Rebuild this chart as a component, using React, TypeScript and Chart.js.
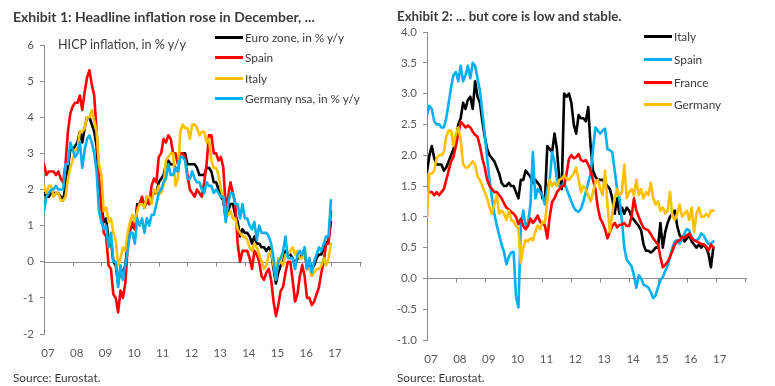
import React, { useEffect, useRef } from "react";
import { Chart, registerables } from "chart.js";

Chart.register(...registerables);

// x index 0 = Dec 2006, one step per month
const yearLabels = ["07", "08", "09", "10", "11", "12", "13", "14", "15", "16", "17"];

// Exhibit 1: headline HICP, % y/y (Dec 2006 .. Dec 2016)
const euroZone = [1.9,
  1.8, 1.8, 1.9, 1.9, 1.9, 1.9, 1.8, 1.7, 2.1, 2.6, 3.1, 3.1,
  3.2, 3.3, 3.6, 3.3, 3.7, 4.0, 4.0, 3.8, 3.6, 3.2, 2.1, 1.6,
  1.1, 1.2, 0.6, 0.6, 0.0, -0.1, -0.6, -0.2, -0.3, -0.1, 0.5, 0.9,
  1.0, 0.9, 1.6, 1.6, 1.7, 1.5, 1.7, 1.6, 1.9, 1.9, 1.9, 2.2,
  2.3, 2.4, 2.7, 2.8, 2.7, 2.7, 2.6, 2.5, 3.0, 3.0, 3.0, 2.7,
  2.7, 2.7, 2.7, 2.6, 2.4, 2.4, 2.4, 2.6, 2.6, 2.5, 2.2, 2.2,
  2.0, 1.8, 1.7, 1.2, 1.4, 1.6, 1.6, 1.3, 1.1, 0.7, 0.9, 0.8,
  0.8, 0.7, 0.5, 0.7, 0.5, 0.5, 0.4, 0.4, 0.3, 0.4, 0.3, -0.2,
  -0.6, -0.3, -0.1, 0.0, 0.3, 0.2, 0.2, 0.1, -0.1, 0.1, 0.1, 0.2,
  0.3, -0.2, 0.0, -0.2, -0.1, 0.1, 0.2, 0.2, 0.4, 0.5, 0.6, 1.1];
const spainHeadline = [2.7,
  2.4, 2.5, 2.5, 2.5, 2.4, 2.5, 2.3, 2.2, 2.7, 3.6, 4.1, 4.3,
  4.4, 4.4, 4.6, 4.2, 4.7, 5.1, 5.3, 4.9, 4.6, 3.6, 2.4, 1.5,
  0.8, 0.7, -0.1, -0.2, -0.9, -1.0, -1.4, -0.8, -1.0, -0.6, 0.4, 0.9,
  1.1, 0.9, 1.5, 1.6, 1.8, 1.5, 1.8, 1.6, 2.1, 2.3, 2.2, 2.9,
  3.0, 3.4, 3.3, 3.5, 3.4, 3.0, 3.0, 2.7, 3.0, 3.0, 2.9, 2.4,
  2.0, 1.9, 1.8, 2.0, 1.9, 1.8, 2.2, 2.7, 3.5, 3.5, 3.0, 3.0,
  2.8, 2.9, 2.6, 1.5, 1.8, 2.2, 1.9, 1.6, 0.5, 0.0, 0.3, 0.3,
  0.3, 0.1, -0.2, 0.3, 0.2, 0.0, -0.4, -0.5, -0.3, -0.2, -0.5, -1.1,
  -1.5, -1.2, -0.8, -0.7, -0.3, 0.0, 0.0, -0.5, -1.1, -0.9, -0.4, -0.1,
  -0.4, -1.0, -1.0, -1.2, -1.1, -0.9, -0.7, -0.3, 0.0, 0.5, 0.5, 1.4];
const italyHeadline = [2.1,
  1.9, 2.1, 2.1, 1.8, 1.9, 1.9, 1.7, 1.7, 1.8, 2.3, 2.6, 2.8,
  3.1, 3.1, 3.6, 3.6, 3.7, 4.0, 4.0, 4.2, 3.9, 3.6, 2.7, 2.4,
  1.4, 1.5, 1.1, 1.2, 0.8, 0.6, -0.1, 0.1, 0.4, 0.3, 0.8, 1.1,
  1.3, 1.1, 1.4, 1.6, 1.6, 1.5, 1.8, 1.8, 1.6, 2.0, 1.9, 2.1,
  1.9, 2.1, 2.8, 2.9, 3.0, 3.0, 2.1, 2.3, 3.6, 3.8, 3.7, 3.7,
  3.4, 3.8, 3.8, 3.7, 3.5, 3.6, 3.6, 3.3, 3.4, 2.8, 2.6, 2.6,
  2.4, 2.0, 1.8, 1.3, 1.3, 1.4, 1.2, 1.2, 0.9, 0.8, 0.7, 0.7,
  0.6, 0.4, 0.3, 0.5, 0.4, 0.2, 0.0, -0.2, -0.1, 0.2, 0.3, -0.1,
  -0.5, 0.1, 0.0, -0.1, 0.2, 0.2, 0.3, 0.4, 0.2, 0.3, 0.1, 0.1,
  0.4, -0.2, -0.2, -0.4, -0.3, -0.2, -0.2, -0.1, 0.1, -0.1, 0.1, 0.5];
const germanyHeadline = [1.4,
  1.8, 1.9, 2.0, 2.0, 2.1, 2.0, 2.0, 2.0, 2.7, 2.7, 3.3, 3.1,
  2.9, 3.0, 3.3, 2.6, 3.1, 3.4, 3.5, 3.3, 3.0, 2.5, 1.4, 1.1,
  0.9, 1.0, 0.4, 0.8, 0.0, 0.0, -0.7, -0.1, -0.5, -0.1, 0.3, 0.8,
  0.8, 0.5, 1.2, 1.0, 1.2, 0.8, 1.2, 1.0, 1.3, 1.3, 1.6, 1.9,
  2.0, 2.2, 2.3, 2.7, 2.4, 2.4, 2.6, 2.5, 2.9, 2.9, 2.8, 2.3,
  2.3, 2.5, 2.3, 2.2, 2.2, 2.0, 1.9, 2.2, 2.1, 2.1, 1.9, 2.0,
  1.9, 1.8, 1.8, 1.1, 1.6, 1.9, 1.9, 1.6, 1.6, 1.2, 1.6, 1.2,
  1.2, 1.0, 0.9, 1.1, 0.6, 1.0, 0.8, 0.8, 0.8, 0.7, 0.5, 0.1,
  -0.5, 0.0, 0.1, 0.3, 0.7, 0.1, 0.1, 0.1, -0.2, 0.2, 0.3, 0.2,
  0.4, -0.2, 0.1, -0.3, 0.0, 0.2, 0.4, 0.3, 0.5, 0.7, 0.7, 1.7];

// Exhibit 2: core HICP, % y/y (Dec 2006 .. Nov 2016)
const italyCore = [1.73,
  2.0, 2.15, 1.95, 1.85, 1.85, 1.85, 1.75, 1.8, 1.9, 2.0, 2.1, 2.2,
  2.5, 2.6, 2.85, 2.75, 2.9, 2.95, 2.75, 3.2, 2.95, 2.85, 2.55, 2.3,
  2.1, 2.0, 1.95, 1.9, 1.8, 1.7, 1.55, 1.5, 1.5, 1.55, 1.5, 1.5,
  1.4, 1.3, 1.6, 1.6, 1.75, 1.7, 1.65, 1.55, 1.6, 1.55, 1.5, 1.3,
  1.25, 2.15, 2.1, 2.05, 2.35, 2.1, 1.6, 1.45, 3.0, 2.95, 3.0, 2.85,
  2.5, 2.35, 2.65, 2.6, 2.6, 2.55, 2.78, 2.15, 1.75, 1.65, 1.6, 1.6,
  1.6, 1.55, 1.5, 1.45, 1.3, 1.05, 1.3, 1.05, 1.15, 1.05, 1.15, 1.1,
  1.0, 0.95, 0.9, 0.85, 0.78, 0.55, 0.45, 0.45, 0.42, 0.45, 0.5, 0.5,
  0.9, 0.5, 0.75, 0.9, 1.0, 1.05, 1.1, 0.85, 0.7, 0.65, 0.6, 0.65,
  0.7, 0.6, 0.55, 0.5, 0.55, 0.5, 0.55, 0.5, 0.4, 0.18, 0.5];
const spainCore = [2.65,
  2.8, 2.75, 2.55, 2.5, 2.5, 2.45, 2.45, 2.6, 2.85, 3.1, 3.3, 3.35,
  3.2, 3.45, 3.2, 3.3, 3.45, 3.25, 3.5, 3.45, 3.25, 3.05, 2.7, 2.35,
  1.95, 1.6, 1.3, 1.05, 0.86, 0.7, 0.55, 0.43, 0.23, 0.35, 0.42, 0.43,
  -0.3, -0.47, 0.85, 1.1, 0.85, 0.9, 1.2, 2.05, 1.3, 1.45, 1.4, 1.35,
  1.2, 1.45, 1.6, 2.05, 1.9, 1.6, 1.5, 1.5, 1.55, 1.45, 1.35, 1.25,
  1.15, 1.1, 1.08, 1.13, 1.25, 1.4, 1.55, 1.7, 2.1, 2.45, 2.4, 2.35,
  2.4, 2.43, 2.1, 2.08, 2.05, 1.75, 1.45, 1.3, 0.94, 0.5, 0.3, 0.25,
  0.2, 0.05, -0.15, 0.05, 0.0, -0.1, -0.12, -0.15, -0.22, -0.32, -0.28, -0.15,
  -0.03, 0.02, 0.12, 0.2, 0.35, 0.5, 0.6, 0.62, 0.56, 0.65, 0.73, 0.8,
  0.78, 0.67, 0.62, 0.62, 0.65, 0.73, 0.7, 0.62, 0.56, 0.56, 0.6];
const franceCore = [1.5,
  1.4, 1.4, 1.35, 1.4, 1.35, 1.4, 1.45, 1.6, 1.75, 1.9, 1.97, 2.15,
  2.35, 2.54, 2.5, 2.45, 2.48, 2.45, 2.38, 2.33, 2.3, 2.15, 1.95, 1.8,
  1.6, 1.5, 1.45, 1.4, 1.4, 1.35, 1.3, 1.22, 1.15, 1.12, 1.08, 1.05,
  1.0, 0.88, 0.97, 0.85, 0.8, 0.85, 0.97, 0.9, 0.95, 1.02, 0.92, 0.88,
  0.86, 0.65, 1.0, 1.24, 1.3, 1.4, 1.45, 1.5, 1.5, 1.7, 1.94, 2.0,
  1.95, 1.97, 2.02, 1.92, 1.9, 1.92, 1.85, 1.75, 1.6, 1.45, 1.15, 0.97,
  0.9, 0.8, 0.65, 0.75, 0.85, 0.9, 0.83, 0.87, 0.87, 0.9, 0.85, 0.85,
  1.0, 1.3, 1.1, 1.0, 0.9, 0.82, 0.8, 0.78, 0.72, 0.65, 0.6, 0.55,
  0.35, 0.18, 0.22, 0.27, 0.35, 0.45, 0.55, 0.6, 0.62, 0.67, 0.66, 0.7,
  0.73, 0.65, 0.62, 0.6, 0.58, 0.56, 0.55, 0.52, 0.45, 0.55, 0.5];
const germanyCore = [1.0,
  1.7, 1.7, 1.75, 1.95, 2.0, 2.0, 2.05, 2.3, 2.4, 2.4, 2.15, 2.35,
  2.45, 2.25, 1.85, 1.8, 1.8, 1.85, 1.9, 1.85, 1.65, 1.6, 1.5, 1.4,
  1.3, 1.15, 1.05, 1.2, 1.35, 1.05, 1.1, 1.05, 0.95, 1.1, 0.95, 0.92,
  0.85, 0.81, 0.25, 0.5, 0.62, 0.6, 0.65, 0.62, 0.75, 0.86, 0.8, 0.92,
  0.9, 1.24, 1.6, 1.5, 1.56, 1.5, 1.6, 1.62, 1.67, 1.62, 1.6, 1.65,
  1.7, 1.8, 1.6, 1.4, 1.5, 1.45, 1.35, 1.25, 1.4, 1.55, 1.6, 1.45,
  1.35, 1.75, 1.2, 0.75, 1.05, 1.3, 1.45, 1.35, 1.4, 1.85, 1.3, 1.4,
  1.45, 1.35, 1.6, 1.35, 1.45, 1.3, 1.4, 1.35, 1.55, 1.3, 1.2, 1.25,
  1.1, 1.15, 1.05, 1.1, 1.4, 1.0, 0.95, 1.05, 1.2, 1.0, 1.05, 1.1,
  0.95, 1.15, 0.75, 1.05, 1.15, 1.0, 1.0, 1.05, 1.0, 1.1, 1.1];

const BLACK = "#000000";
const RED = "#ff0000";
const GOLD = "#ffc000";
const BLUE = "#00b0f0";
const AXIS = "#8c8c8c";
const TICK_TEXT = "#595959";
const TEXT = "#3b3b3b";
const FONT = "Lato, 'Noto Sans', sans-serif";

type Series = { label: string; values: number[]; color: string };

const headlineSeries: Series[] = [
  { label: "Euro zone, in % y/y", values: euroZone, color: BLACK },
  { label: "Spain", values: spainHeadline, color: RED },
  { label: "Italy", values: italyHeadline, color: GOLD },
  { label: "Germany nsa, in % y/y", values: germanyHeadline, color: BLUE },
];
const coreSeries: Series[] = [
  { label: "Italy", values: italyCore, color: BLACK },
  { label: "Spain", values: spainCore, color: BLUE },
  { label: "France", values: franceCore, color: RED },
  { label: "Germany", values: germanyCore, color: GOLD },
];

const zeroAxis = {
  id: "zeroAxis",
  beforeDatasetsDraw(chart: any) {
    const { ctx, chartArea, scales } = chart;
    const x = scales.x;
    const y = scales.y;
    const py = Math.round(y.getPixelForValue(0)) + 0.5;
    ctx.save();
    ctx.strokeStyle = AXIS;
    ctx.lineWidth = 1;
    ctx.beginPath();
    ctx.moveTo(chartArea.left, py);
    ctx.lineTo(chartArea.right, py);
    for (let m = 12; m <= 132; m += 12) {
      const px = Math.round(x.getPixelForValue(m)) + 0.5;
      ctx.moveTo(px, py);
      ctx.lineTo(px, py + 4);
    }
    ctx.stroke();
    ctx.restore();
  },
};

type PanelProps = {
  series: Series[];
  yMin: number;
  yMax: number;
  step: number;
  decimals: number;
  yWidth: number;
  padTop: number;
  padRight: number;
  padBottom: number;
  width: number;
  height: number;
  left: number;
};

function Panel(p: PanelProps) {
  const ref = useRef<HTMLCanvasElement | null>(null);
  useEffect(() => {
    if (!ref.current) return;
    const n = p.series.length;
    const chart = new Chart(ref.current, {
      type: "line",
      data: {
        datasets: p.series.map((s, i) => ({
          label: s.label,
          data: s.values.map((v, k) => ({ x: k, y: v })),
          borderColor: s.color,
          backgroundColor: s.color,
          borderWidth: 2.6,
          pointRadius: 0,
          tension: 0,
          borderJoinStyle: "round" as const,
          borderCapStyle: "round" as const,
          order: n - i,
        })),
      },
      options: {
        responsive: false,
        animation: false,
        devicePixelRatio: 1,
        layout: { padding: { left: 0, top: p.padTop, right: p.padRight, bottom: p.padBottom } },
        plugins: { legend: { display: false }, tooltip: { enabled: false } },
        scales: {
          x: {
            type: "linear",
            min: 0,
            max: 133,
            grid: { display: false, drawTicks: false },
            border: { display: false },
            afterBuildTicks: (s: any) => {
              s.ticks = yearLabels.map((_, i) => ({ value: i * 12 }));
            },
            afterFit: (s: any) => {
              s.height = 30;
            },
            ticks: {
              autoSkip: false,
              maxRotation: 0,
              labelOffset: 4,
              padding: 12,
              color: TICK_TEXT,
              font: { family: FONT, size: 11.5 },
              callback: (v: any) => yearLabels[Math.round(Number(v) / 12)] ?? "",
            },
          },
          y: {
            type: "linear",
            min: p.yMin,
            max: p.yMax,
            grid: { drawOnChartArea: false, tickLength: 4, color: AXIS },
            border: { display: true, color: AXIS },
            afterFit: (s: any) => {
              s.width = p.yWidth;
            },
            ticks: {
              stepSize: p.step,
              padding: 6,
              color: TICK_TEXT,
              font: { family: FONT, size: 11.5 },
              callback: (v: any) => Number(v).toFixed(p.decimals),
            },
          },
        },
      },
      plugins: [zeroAxis],
    });
    return () => chart.destroy();
  }, []);
  return (
    <canvas
      ref={ref}
      width={p.width}
      height={p.height}
      style={{ position: "absolute", left: p.left, top: 0, width: p.width, height: p.height }}
    />
  );
}

function Legend({ series, left, lineWidth, rows }: { series: Series[]; left: number; lineWidth: number; rows: number[] }) {
  return (
    <>
      {series.map((s, i) => (
        <div
          key={s.label}
          style={{ position: "absolute", left, top: rows[i] - 8, height: 16, display: "flex", alignItems: "center" }}
        >
          <div style={{ width: lineWidth, height: 3, background: s.color }} />
          <span style={{ marginLeft: 2, fontFamily: FONT, fontSize: 11.8, color: TEXT, whiteSpace: "nowrap" }}>
            {s.label}
          </span>
        </div>
      ))}
    </>
  );
}

const textStyle = (left: number, centerY: number, size: number, bold = false): React.CSSProperties => ({
  position: "absolute",
  left,
  top: centerY - 8,
  height: 16,
  lineHeight: "16px",
  fontFamily: FONT,
  fontSize: size,
  fontWeight: bold ? 700 : 400,
  color: TEXT,
  whiteSpace: "nowrap",
});

export default function App() {
  return (
    <div style={{ position: "absolute", left: 0, top: 0, width: 775, height: 386, background: "#fff", overflow: "hidden" }}>
      <Panel
        series={headlineSeries}
        yMin={-2}
        yMax={6}
        step={1}
        decimals={0}
        yWidth={44}
        padTop={45}
        padRight={23}
        padBottom={22}
        width={385}
        height={386}
        left={0}
      />
      <Panel
        series={coreSeries}
        yMin={-1}
        yMax={4}
        step={0.5}
        decimals={1}
        yWidth={42}
        padTop={32}
        padRight={28}
        padBottom={16}
        width={390}
        height={386}
        left={385}
      />
      <div style={textStyle(13, 17, 14, true)}>Exhibit 1: Headline inflation rose in December, ...</div>
      <div style={textStyle(397, 16, 13.3, true)}>Exhibit 2: ... but core is low and stable.</div>
      <div style={textStyle(58, 45, 12.6)}>HICP inflation, in % y/y</div>
      <Legend series={headlineSeries} left={215} lineWidth={28} rows={[37, 57, 78, 98]} />
      <Legend series={coreSeries} left={644} lineWidth={28} rows={[36, 59, 82, 104]} />
      <div style={textStyle(13, 378, 11.8)}>Source: Eurostat.</div>
      <div style={textStyle(397, 378, 11.8)}>Source: Eurostat.</div>
    </div>
  );
}
